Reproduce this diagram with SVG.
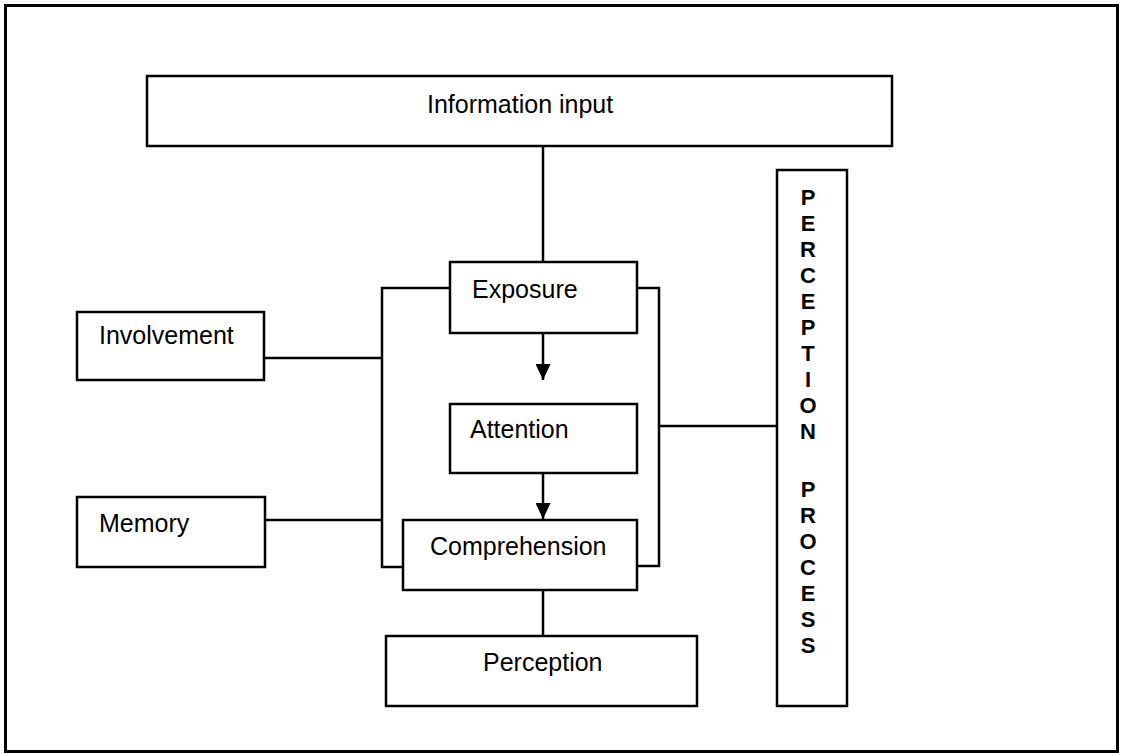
<svg xmlns="http://www.w3.org/2000/svg" width="1124" height="753" viewBox="0 0 1124 753">
  <style>
    .box { fill: #ffffff; stroke: #000000; stroke-width: 2.5; }
    .wire { fill: none; stroke: #000000; stroke-width: 2.5; }
    .label { font-family: "Liberation Sans", Arial, sans-serif; font-size: 25px; fill: #000000; }
    .side { font-family: "Liberation Sans", Arial, sans-serif; font-size: 22px; font-weight: bold; fill: #000000; text-anchor: middle; }
  </style>
  <defs>
    <marker id="arrow" markerWidth="16" markerHeight="15" refX="16" refY="7.5" orient="auto" markerUnits="userSpaceOnUse">
      <path d="M0,0 L16,7.5 L0,15 Z" fill="#000000"/>
    </marker>
  </defs>

  <rect x="0" y="0" width="1124" height="753" fill="#ffffff"/>
  <!-- outer frame -->
  <rect x="5.5" y="5.5" width="1112" height="746" fill="none" stroke="#000000" stroke-width="3"/>

  <!-- connectors -->
  <g id="connectors">
    <line class="wire" x1="543" y1="146" x2="543" y2="262"/>
    <line class="wire" x1="543" y1="333" x2="543" y2="380" marker-end="url(#arrow)"/>
    <line class="wire" x1="543" y1="473" x2="543" y2="519" marker-end="url(#arrow)"/>
    <line class="wire" x1="543" y1="590" x2="543" y2="636"/>
    <!-- left bracket -->
    <polyline class="wire" points="450,288 382,288 382,567 403,567"/>
    <line class="wire" x1="264" y1="358" x2="382" y2="358"/>
    <line class="wire" x1="265" y1="520" x2="382" y2="520"/>
    <!-- right bracket -->
    <polyline class="wire" points="637,288 659,288 659,566 637,566"/>
    <line class="wire" x1="659" y1="426" x2="777" y2="426"/>
  </g>

  <g id="information-input">
    <rect class="box" x="147" y="76" width="745" height="70"/>
    <text class="label" x="427" y="113">Information input</text>
  </g>

  <g id="exposure">
    <rect class="box" x="450" y="262" width="187" height="71"/>
    <text class="label" x="472" y="298">Exposure</text>
  </g>

  <g id="attention">
    <rect class="box" x="450" y="404" width="187" height="69"/>
    <text class="label" x="470" y="438">Attention</text>
  </g>

  <g id="comprehension">
    <rect class="box" x="403" y="520" width="234" height="70"/>
    <text class="label" x="430" y="555">Comprehension</text>
  </g>

  <g id="perception">
    <rect class="box" x="386" y="636" width="311" height="70"/>
    <text class="label" x="483" y="671">Perception</text>
  </g>

  <g id="involvement">
    <rect class="box" x="77" y="312" width="187" height="68"/>
    <text class="label" x="99" y="344">Involvement</text>
  </g>

  <g id="memory">
    <rect class="box" x="77" y="497" width="188" height="70"/>
    <text class="label" x="99" y="532">Memory</text>
  </g>

  <g id="perception-process">
    <rect class="box" x="777" y="170" width="70" height="536"/>
    <text class="side" x="808" y="205">P</text>
    <text class="side" x="808" y="231">E</text>
    <text class="side" x="808" y="257">R</text>
    <text class="side" x="808" y="283">C</text>
    <text class="side" x="808" y="309">E</text>
    <text class="side" x="808" y="335">P</text>
    <text class="side" x="808" y="361">T</text>
    <text class="side" x="808" y="387">I</text>
    <text class="side" x="808" y="413">O</text>
    <text class="side" x="808" y="439">N</text>
    <text class="side" x="808" y="497">P</text>
    <text class="side" x="808" y="523">R</text>
    <text class="side" x="808" y="549">O</text>
    <text class="side" x="808" y="575">C</text>
    <text class="side" x="808" y="601">E</text>
    <text class="side" x="808" y="627">S</text>
    <text class="side" x="808" y="653">S</text>
  </g>
</svg>
